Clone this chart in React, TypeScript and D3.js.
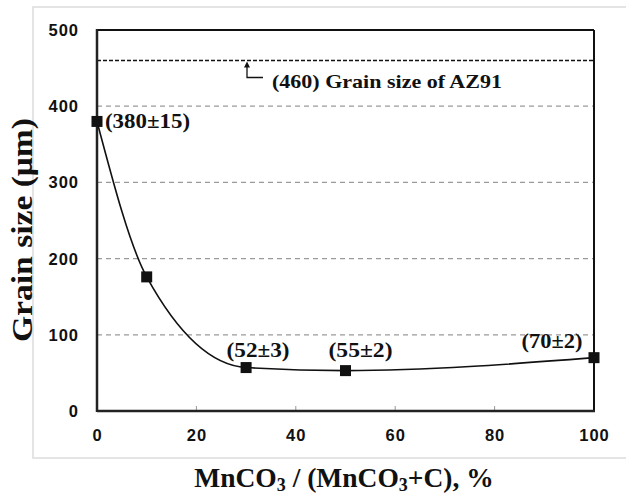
import React from 'react';
import * as d3 from 'd3';

// MnCO3 share (%) and measured grain size (µm)
const ratios = [0, 10, 30, 50, 100];
const grainSizes = [380, 176, 57, 53, 70];
const pointLabels = ['(380±15)', '', '(52±3)', '(55±2)', '(70±2)'];
const xTicks = [0, 20, 40, 60, 80, 100];
const yTicks = [0, 100, 200, 300, 400, 500];
const gridValues = [100, 200, 300, 400];
const az91Size = 460;
const az91Label = '(460) Grain size of AZ91';

const serif = '"Liberation Serif", "Times New Roman", serif';
const sans = '"Liberation Sans", Arial, sans-serif';

function App() {
    const width = 626;
    const height = 497;
    const left = 97;
    const right = 594;
    const top = 30;
    const bottom = 411;

    const x = d3.scaleLinear().domain([0, 100]).range([left, right]);
    const y = d3.scaleLinear().domain([0, 500]).range([bottom, top]);

    const pts: [number, number][] = ratios.map((r, i) => [x(r), y(grainSizes[i])]);
    const line = d3.line().curve(d3.curveMonotoneX)(pts) || '';

    // label placement relative to each point (offset + rendered width)
    const labelPos = [
        { dx: 8, dy: 6.5, anchor: 'start', w: 85 },
        { dx: 0, dy: 0, anchor: 'middle', w: 0 },
        { dx: 12, dy: -11, anchor: 'middle', w: 63 },
        { dx: 15, dy: -14, anchor: 'middle', w: 64 },
        { dx: -42, dy: -10, anchor: 'middle', w: 61 },
    ];

    const ay = y(az91Size);
    const arrowX = 247;

    return (
        <svg width={width} height={height} style={{ position: 'absolute', left: 0, top: 0 }}>
            <rect x={0} y={0} width={width} height={height} fill="#fff" />
            {/* outer frame of the figure */}
            <rect x={33} y={7} width={620} height={451} fill="none" stroke="#dcdcdc" strokeWidth={1.5} />

            {/* grid */}
            {gridValues.map((v) => (
                <line key={v} x1={left} x2={right} y1={y(v)} y2={y(v)}
                    stroke="#9a9a9a" strokeWidth={1.2} strokeDasharray="5,4" />
            ))}

            {/* AZ91 reference line */}
            <line x1={left} x2={right} y1={ay} y2={ay} stroke="#111" strokeWidth={1.5} strokeDasharray="4,2" />
            <path d={`M${arrowX + 16},${ay + 17} H${arrowX} V${ay + 5}`} fill="none" stroke="#111" strokeWidth={1.3} />
            <path d={`M${arrowX - 3},${ay + 7} L${arrowX},${ay + 1} L${arrowX + 3},${ay + 7} Z`} fill="#111" />
            <text x={272} y={88} fontFamily={serif} fontWeight="bold" fontSize={19} fill="#111"
                textLength={230} lengthAdjust="spacingAndGlyphs">{az91Label}</text>

            {/* x tick marks */}
            {xTicks.slice(1, -1).map((t) => (
                <line key={t} x1={x(t)} x2={x(t)} y1={bottom} y2={bottom - 5} stroke="#999" strokeWidth={1} />
            ))}

            {/* frame */}
            <line x1={left} x2={right} y1={top} y2={top} stroke="#111" strokeWidth={2} />
            <line x1={right} x2={right} y1={top} y2={bottom} stroke="#111" strokeWidth={2} />
            <line x1={left} x2={left} y1={top - 1} y2={bottom + 1} stroke="#222" strokeWidth={2.5} />
            <line x1={left} x2={right + 1} y1={bottom} y2={bottom} stroke="#222" strokeWidth={2.5} />

            {/* tick labels */}
            {yTicks.map((t) => (
                <text key={t} x={79} y={y(t)} dy="0.36em" textAnchor="end"
                    fontFamily={sans} fontWeight="bold" fontSize={16.5} letterSpacing={1} fill="#111">{t}</text>
            ))}
            {xTicks.map((t) => (
                <text key={t} x={x(t) + 0.5} y={435} dy="0.36em" textAnchor="middle"
                    fontFamily={sans} fontWeight="bold" fontSize={16.5} letterSpacing={1} fill="#111">{t}</text>
            ))}

            {/* fitted curve */}
            <path d={line} fill="none" stroke="#111" strokeWidth={1.6} />
            {pts.map(([px, py], i) => (
                <rect key={i} x={px - 5.5} y={py - 5.5} width={11} height={11} fill="#111" />
            ))}
            {pts.map(([px, py], i) => pointLabels[i] ? (
                <text key={'l' + i} x={px + labelPos[i].dx} y={py + labelPos[i].dy}
                    textAnchor={labelPos[i].anchor as any}
                    textLength={labelPos[i].w} lengthAdjust="spacingAndGlyphs"
                    fontFamily={serif} fontWeight="bold" fontSize={20} fill="#111">{pointLabels[i]}</text>
            ) : null)}

            {/* axis titles */}
            <text transform={`translate(32,230) rotate(-90)`} textAnchor="middle"
                textLength={224} lengthAdjust="spacingAndGlyphs"
                fontFamily={serif} fontWeight="bold" fontSize={29} fill="#111">Grain size (μm)</text>
            <text x={344} y={487} textAnchor="middle" fontFamily={serif} fontWeight="bold" fontSize={27.5} fill="#111">
                MnCO<tspan fontSize={18} dy={4}>3</tspan><tspan dy={-4}> / (MnCO</tspan><tspan fontSize={18} dy={4}>3</tspan><tspan dy={-4}>+C), %</tspan>
            </text>
        </svg>
    );
}

export default App;
